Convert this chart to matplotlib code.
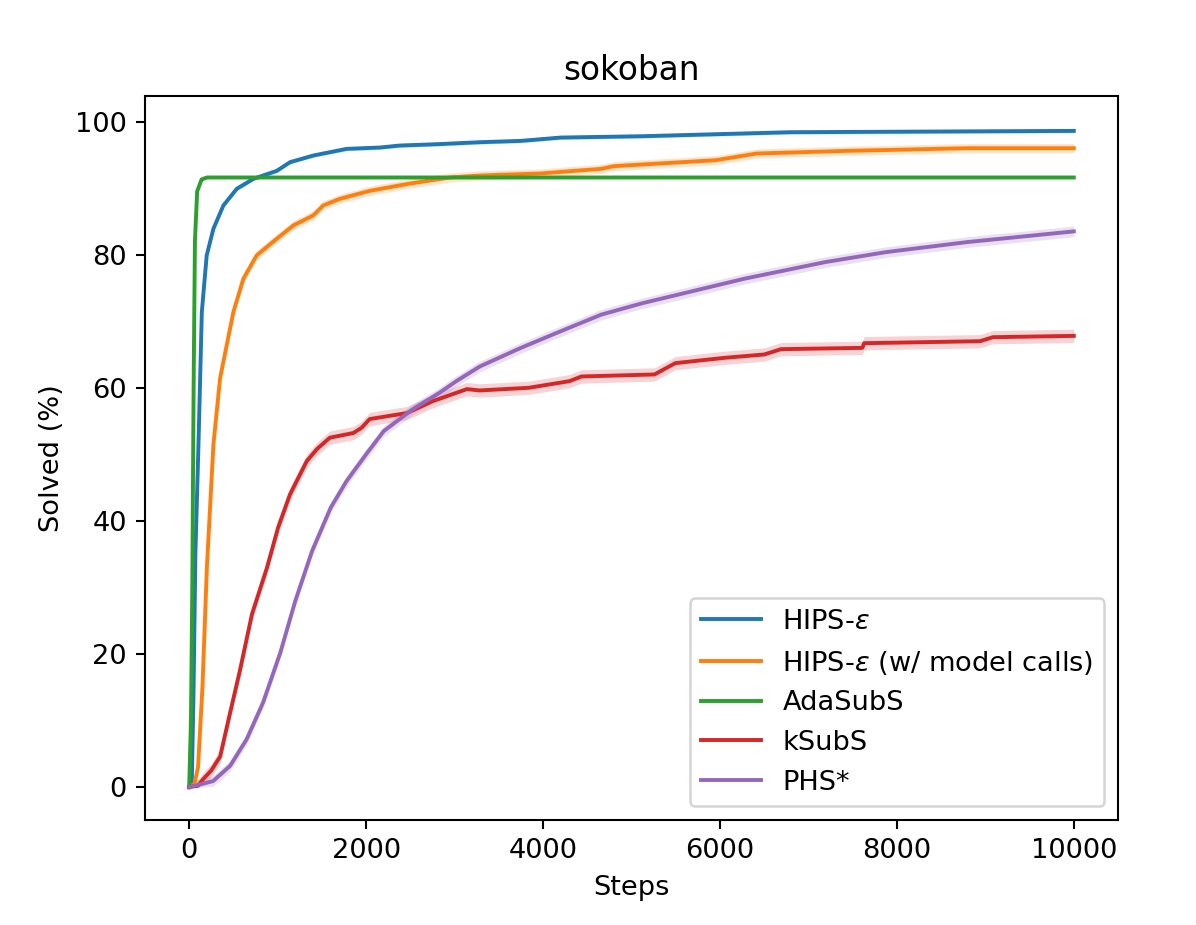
import matplotlib
matplotlib.use('Agg')
import matplotlib.pyplot as plt

# values (steps, solved %)
hips_x = [0, 30, 50, 70, 105, 143, 198, 274, 387, 538, 726, 990, 1140, 1403, 1780, 2155,
          2380, 2800, 3285, 3750, 4200, 5120, 5955, 6790, 8360, 10000]
hips_y = [0, 1, 15, 35, 51.5, 71.4, 79.9, 83.9, 87.4, 89.9, 91.4, 92.6, 93.9, 94.9, 95.9, 96.1,
          96.4, 96.6, 96.9, 97.1, 97.6, 97.8, 98.1, 98.4, 98.5, 98.6]

hipsm_x = [0, 60, 100, 150, 200, 274, 350, 500, 613, 763, 990, 1178, 1403, 1516, 1704, 2043,
           2500, 2950, 3285, 3970, 4660, 4800, 5955, 6415, 7430, 8800, 10000]
hipsm_y = [0, 0.5, 3, 15, 33, 51.5, 61.5, 71.4, 76.4, 79.9, 82.4, 84.4, 85.9, 87.4, 88.4, 89.6,
           90.7, 91.6, 91.9, 92.2, 92.9, 93.3, 94.2, 95.2, 95.6, 96.0, 96.0]

ada_x = [0, 20, 35, 50, 65, 90, 140, 200, 10000]
ada_y = [0, 10, 30, 60, 82, 89.5, 91.3, 91.6, 91.6]

ksub_x = [0, 100, 158, 250, 350, 463, 575, 710, 880, 1005, 1140, 1330, 1445, 1590, 1855, 1950,
          2040, 2460, 2755, 3140, 3285, 3840, 4300, 4435, 5260, 5495, 6050, 6500, 6690, 7610,
          7630, 8940, 9085, 10000]
ksub_y = [0, 0.2, 1.2, 2.5, 4.6, 11.2, 17.6, 26, 33, 39, 44, 49, 50.8, 52.5, 53.2, 54,
          55.3, 56.2, 58, 59.8, 59.6, 60, 61, 61.7, 62, 63.7, 64.5, 65, 65.8, 66,
          66.7, 67, 67.6, 67.8]

phs_x = [0, 270, 463, 650, 835, 1030, 1200, 1390, 1600, 1780, 2000, 2200, 2530, 2835, 3020,
         3285, 3750, 4200, 4660, 5120, 5590, 6280, 7195, 7885, 8800, 10000]
phs_y = [0, 0.9, 3.2, 7.2, 12.7, 20.2, 28, 35.5, 42, 46, 50, 53.5, 56.8, 59.3, 61,
         63.2, 66, 68.5, 71, 72.7, 74.2, 76.4, 78.9, 80.4, 81.9, 83.5]

labels = [r'HIPS-$\varepsilon$', r'HIPS-$\varepsilon$ (w/ model calls)', 'AdaSubS', 'kSubS', 'PHS*']
spread = [0.3, 0.7, 0.2, 1.0, 0.8]
colors = ['#1f77b4', '#ff7f0e', '#2ca02c', '#d62728', '#9467bd']

series = [(hips_x, hips_y), (hipsm_x, hipsm_y), (ada_x, ada_y), (ksub_x, ksub_y), (phs_x, phs_y)]

plt.rcParams['font.size'] = 10.5

fig = plt.figure(figsize=(6.4, 4.95), dpi=186.875)
ax = fig.add_axes([0.1212, 0.1135, 0.8136, 0.7827])

for i in range(len(series)):
    xs, ys = series[i]
    lo = [max(v - spread[i], 0) for v in ys]
    hi = [v + spread[i] for v in ys]
    ax.fill_between(xs, lo, hi, color=colors[i], alpha=0.2, linewidth=0)
    ax.plot(xs, ys, color=colors[i], label=labels[i])

ax.set_title('sokoban')
ax.set_xlabel('Steps')
ax.set_ylabel('Solved (%)')
ax.set_xticks([0, 2000, 4000, 6000, 8000, 10000])
ax.set_yticks([0, 20, 40, 60, 80, 100])
ax.legend(loc='lower right', handlelength=2.2)

fig.savefig('out.png', dpi=186.875)
